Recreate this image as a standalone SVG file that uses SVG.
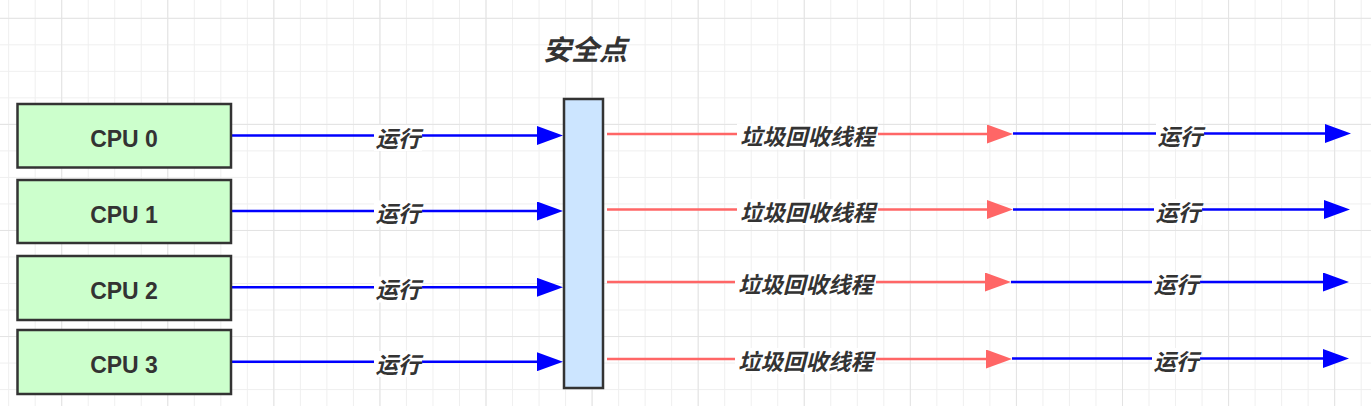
<svg xmlns="http://www.w3.org/2000/svg" width="1371" height="406" viewBox="0 0 1371 406">
<defs>
<style>
.cpu rect{fill:#ccffcc;stroke:#333;stroke-width:2.5}
.cpu text{font-family:"Liberation Sans",Arial,sans-serif;font-weight:bold;font-size:23px;fill:#333;text-anchor:middle}
.sp{fill:#cce5ff;stroke:#333;stroke-width:2.5}
.lbl{font-family:"Noto Sans CJK SC","Noto Sans",sans-serif;font-weight:bold;font-style:italic;font-size:22.5px;fill:#333;text-anchor:middle}
.title{font-family:"Noto Sans CJK SC","Noto Sans",sans-serif;font-weight:bold;font-style:italic;font-size:28px;fill:#333;text-anchor:middle}
.bg{fill:#fff}
.blue{stroke:#0000ff;stroke-width:2.5;fill:none;marker-end:url(#ab)}
.red{stroke:#ff6666;stroke-width:2.5;fill:none;marker-end:url(#ar)}
</style>
<pattern id="gmin" patternUnits="userSpaceOnUse" x="8.16" y="17.8" width="26.52" height="26.52">
<rect width="26.52" height="1" fill="#efefef"/><rect width="1" height="26.52" fill="#efefef"/>
</pattern>
<pattern id="gmaj" patternUnits="userSpaceOnUse" x="61.2" y="123.9" width="106.08" height="106.08">
<rect width="106.08" height="1" fill="#e3e3e3"/><rect width="1" height="106.08" fill="#e3e3e3"/>
</pattern>
<marker id="ab" markerUnits="userSpaceOnUse" markerWidth="26" markerHeight="19" refX="6" refY="9.5" orient="auto" viewBox="0 0 26 19">
<path d="M0,0 L26,9.5 L0,19 Z" fill="#0000ff"/>
</marker>
<marker id="ar" markerUnits="userSpaceOnUse" markerWidth="26" markerHeight="19" refX="6" refY="9.5" orient="auto" viewBox="0 0 26 19">
<path d="M0,0 L26,9.5 L0,19 Z" fill="#ff6666"/>
</marker>
</defs>
<rect width="1371" height="406" fill="#fff"/>
<rect width="1371" height="406" fill="url(#gmin)"/>
<rect width="1371" height="406" fill="url(#gmaj)"/>

<g id="connectors">
<line class="blue" x1="232" y1="135.5" x2="543" y2="135.5"/>
<line class="blue" x1="232" y1="211" x2="543" y2="211"/>
<line class="blue" x1="232" y1="287.3" x2="543" y2="287.3"/>
<line class="blue" x1="232" y1="361.7" x2="543" y2="361.7"/>
<line class="red" x1="607" y1="134" x2="993" y2="134"/>
<line class="red" x1="607" y1="209.5" x2="993" y2="209.5"/>
<line class="red" x1="607" y1="282" x2="991" y2="282"/>
<line class="red" x1="607" y1="359" x2="992" y2="359"/>
<line class="blue" x1="1013" y1="133.5" x2="1331" y2="133.5"/>
<line class="blue" x1="1013" y1="209.5" x2="1330" y2="209.5"/>
<line class="blue" x1="1011" y1="282" x2="1329" y2="282"/>
<line class="blue" x1="1012" y1="358.5" x2="1329" y2="358.5"/>
<g id="labels">
<rect class="bg" x="374" y="125" width="48" height="26"/><text class="lbl" x="398" y="146.5">运行</text>
<rect class="bg" x="374" y="200.5" width="48" height="26"/><text class="lbl" x="398" y="222">运行</text>
<rect class="bg" x="374" y="276.5" width="48" height="26"/><text class="lbl" x="398" y="298">运行</text>
<rect class="bg" x="374" y="351" width="48" height="26"/><text class="lbl" x="398" y="372.5">运行</text>
<rect class="bg" x="737" y="123.5" width="141" height="26"/><text class="lbl" x="807.5" y="145">垃圾回收线程</text>
<rect class="bg" x="737" y="199" width="141" height="26"/><text class="lbl" x="807.5" y="220.5">垃圾回收线程</text>
<rect class="bg" x="735" y="271.5" width="141" height="26"/><text class="lbl" x="805.5" y="293">垃圾回收线程</text>
<rect class="bg" x="735" y="348" width="141" height="26"/><text class="lbl" x="805.5" y="369.5">垃圾回收线程</text>
<rect class="bg" x="1156" y="123" width="48" height="26"/><text class="lbl" x="1180" y="144.5">运行</text>
<rect class="bg" x="1154" y="199" width="48" height="26"/><text class="lbl" x="1178" y="220.5">运行</text>
<rect class="bg" x="1152" y="271.5" width="48" height="26"/><text class="lbl" x="1176" y="293">运行</text>
<rect class="bg" x="1152" y="348" width="48" height="26"/><text class="lbl" x="1176" y="369.5">运行</text>
</g>
</g>

<g id="cpu0" class="cpu"><rect x="17.5" y="104" width="213.5" height="63.5"/><text x="124" y="146.5">CPU 0</text></g>
<g id="cpu1" class="cpu"><rect x="17.5" y="180" width="213.5" height="63"/><text x="124" y="222.5">CPU 1</text></g>
<g id="cpu2" class="cpu"><rect x="17.5" y="256" width="213.5" height="64"/><text x="124" y="298.5">CPU 2</text></g>
<g id="cpu3" class="cpu"><rect x="17.5" y="330" width="213.5" height="64"/><text x="124" y="372.5">CPU 3</text></g>

<g id="safepoint">
<rect class="sp" x="564" y="99" width="39" height="289"/>
</g>
<g id="safepoint-title">
<text class="title" x="585" y="60">安全点</text>
</g>
</svg>
